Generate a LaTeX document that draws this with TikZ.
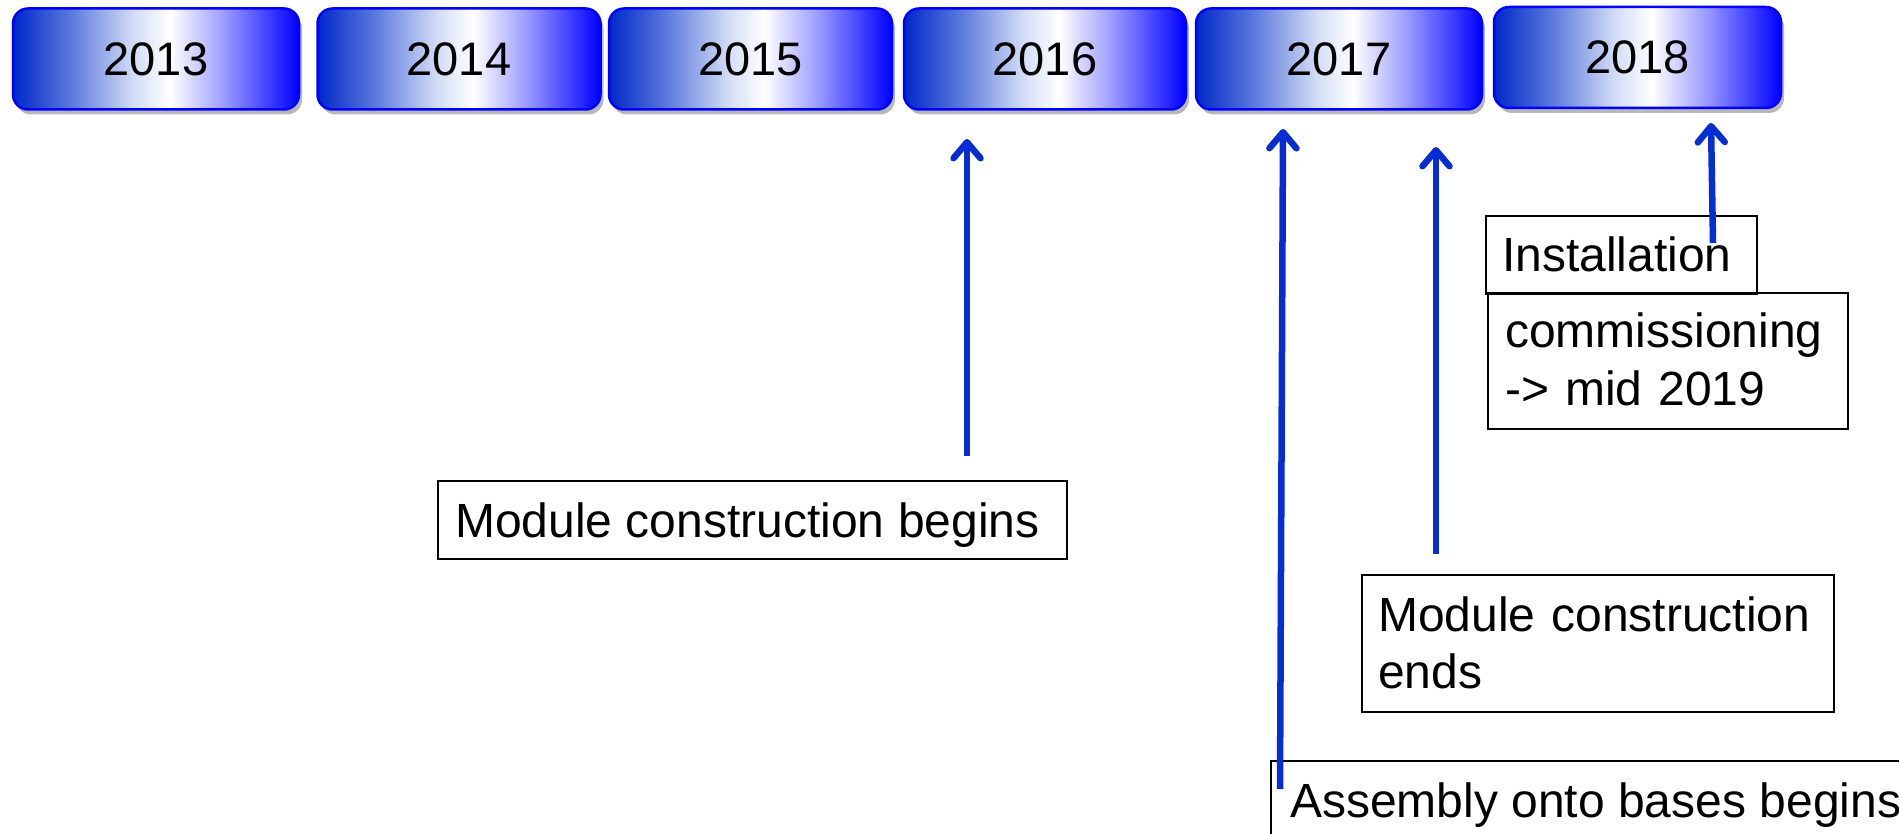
\documentclass[tikz,border=0pt]{standalone}
\usepackage{fontspec}
\setmainfont{Liberation Sans}
\usetikzlibrary{arrows.meta,shadows}
\definecolor{ydark}{RGB}{0,40,200}
\definecolor{ymidA}{RGB}{90,120,220}
\definecolor{ymidB}{RGB}{210,220,245}
\definecolor{ylight}{RGB}{165,165,255}
\definecolor{yblue}{RGB}{0,0,255}
\definecolor{arrowblue}{RGB}{5,45,210}
\pgfdeclarehorizontalshading{yearshade}{100bp}{color(0bp)=(ydark); color(25bp)=(ydark); color(35bp)=(ymidA); color(46bp)=(ymidB); color(52.5bp)=(white); color(61bp)=(ylight); color(75bp)=(yblue); color(100bp)=(yblue)}
\tikzset{
  yearbox/.style={shade, shading=yearshade, draw=yblue, line width=2.5pt, rounded corners=15pt,
    minimum height=101pt, inner sep=0pt, font=\fontsize{47}{56}\selectfont,
    drop shadow={shadow xshift=3pt, shadow yshift=-5pt, fill=black, opacity=0.28}},
  textframe/.style={draw=black, line width=1.8pt, anchor=north west, inner sep=0pt},
  boxtext/.style={anchor=base west, inner sep=0pt, align=left, font=\fontsize{48}{57.5}\selectfont},
  timearrow/.style={draw=arrowblue, line width=6.5pt, -{Straight Barb[length=16pt,width=27pt,round]}}
}
\begin{document}
\begin{tikzpicture}[x=1pt,y=-1pt]
\useasboundingbox (0,0) rectangle (1899,834);
\clip (0,0) rectangle (1899,834);
% year boxes
\node[yearbox, minimum width=286pt] (y2013) at (156,59) {2013};
\node[yearbox, minimum width=283pt] (y2014) at (459,59) {2014};
\node[yearbox, minimum width=283pt] (y2015) at (750.5,59) {2015};
\node[yearbox, minimum width=282pt] (y2016) at (1045,59) {2016};
\node[yearbox, minimum width=286pt] (y2017) at (1339,59) {2017};
\node[yearbox, minimum width=287pt] (y2018) at (1637.5,57.5) {2018};
% text frames
\node[textframe, minimum width=629pt, minimum height=78pt] (mcbB) at (437,480) {};
\node[textframe, minimum width=472pt, minimum height=137pt] (mceB) at (1361,574) {};
\node[textframe, minimum width=271pt, minimum height=78pt] (instB) at (1485,215) {};
\node[textframe, minimum width=360pt, minimum height=136pt] (comB) at (1487,292) {};
\node[textframe, minimum width=660pt, minimum height=85pt] (asmB) at (1270,760) {};
% texts
\node[boxtext] (mcbT) at (455,537) {Module construction begins};
\node[boxtext, text width=460pt] (mceT) at (1378,631) {Module construction\\ends};
\node[boxtext] (instT) at (1502,272) {Installation};
\node[boxtext, text width=340pt] (comT) at (1505,348) {commissioning\\-> mid 2019};
\node[boxtext] (asmT) at (1290,817) {Assembly onto bases begins};
% arrow ends
\coordinate (a1s) at (967,456);  \coordinate (a1e) at (967,139);
\coordinate (a2s) at (1280,789); \coordinate (a2e) at (1283,129);
\coordinate (a3s) at (1436,554); \coordinate (a3e) at (1436,147);
\coordinate (a4s) at (1713,243); \coordinate (a4e) at (1711,123);
\draw[timearrow] (a1s) -- (a1e);
\draw[timearrow] (a2s) -- (a2e);
\draw[timearrow] (a3s) -- (a3e);
\draw[timearrow] (a4s) -- (a4e);
\end{tikzpicture}
\end{document}
